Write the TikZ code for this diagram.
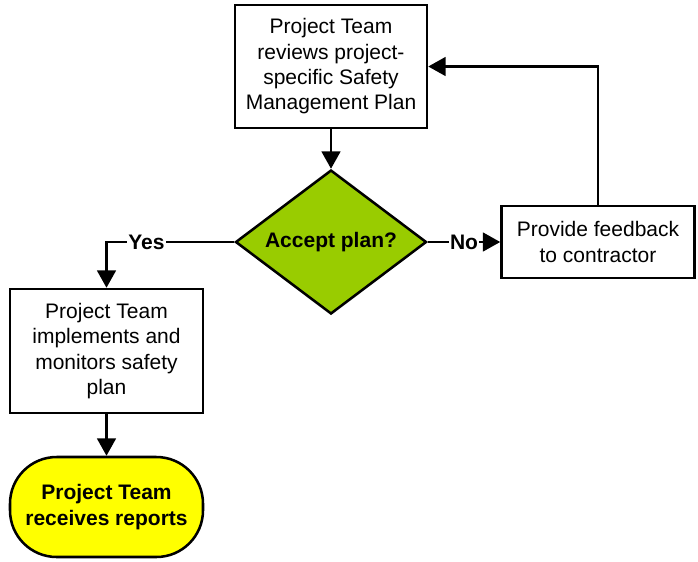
\documentclass[tikz,border=0pt]{standalone}
\usepackage{fontspec}
\setmainfont{Liberation Sans}
\usetikzlibrary{shapes.geometric,arrows.meta}
\definecolor{dgreen}{HTML}{99CC00}
\definecolor{tyellow}{HTML}{FFFF00}
\begin{document}
\begin{tikzpicture}[x=0.75pt,y=-0.75pt,
  font=\fontsize{15.75}{19}\selectfont,
  box/.style={draw,line width=1.9pt,fill=white,align=center,inner sep=0pt},
  conn/.style={line width=1.9pt,-{Triangle[length=13pt,width=14pt]}},
  lbl/.style={fill=white,inner sep=1pt,font=\fontsize{15.75}{19}\selectfont\bfseries}]
\useasboundingbox (0,0) rectangle (698,561);
\node[box,minimum width=144pt,minimum height=92.25pt] (top) at (331,66.5)
  {Project Team\\reviews project-\\specific Safety\\Management Plan};
\node[draw,line width=1.9pt,fill=dgreen,diamond,aspect=1.33,inner sep=0pt,
  minimum width=143.25pt,minimum height=108pt,font=\fontsize{15.75}{19}\selectfont\bfseries] (dec) at (331,242) {Accept plan?};
\node[box,minimum width=144.75pt,minimum height=54pt] (fb) at (598,242)
  {Provide feedback\\to contractor};
\node[box,minimum width=144.75pt,minimum height=93pt] (impl) at (106.5,351)
  {Project Team\\implements and\\monitors safety\\plan};
\node[box,fill=tyellow,rounded corners=35pt,minimum width=144.75pt,minimum height=75pt,
  font=\fontsize{15.75}{19}\selectfont\bfseries] (term) at (106.5,507)
  {Project Team\\receives reports};
\draw[conn] (top.south) -- (dec.north);
\draw[conn] (dec.east) -- node[lbl] (no) {No} (fb.west);
\draw[conn] (fb.north) |- (top.east);
\draw[conn] (dec.west) -| node[lbl,pos=0.344] (yes) {Yes} (impl.north);
\draw[conn] (impl.south) -- (term.north);
\end{tikzpicture}
\end{document}
